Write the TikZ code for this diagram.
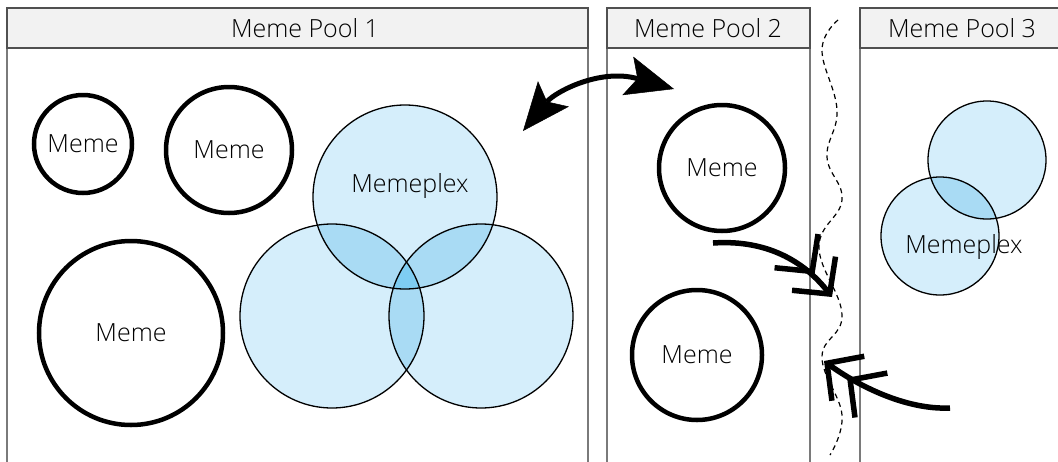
\documentclass[tikz,border=0pt]{standalone}
\usepackage{fontspec}
\IfFontExistsTF{Open Sans Light}{\setmainfont{Open Sans Light}}{\setmainfont{Open Sans}}
\usetikzlibrary{arrows.meta}
\definecolor{vbase}{HTML}{D5EEFB}
\definecolor{vpair}{HTML}{A9DBF4}
\definecolor{vtri}{HTML}{7ECDF2}
\definecolor{hdr}{HTML}{F2F2F2}
\definecolor{pline}{HTML}{7A7A7A}
\definecolor{hline}{HTML}{505050}
\begin{document}
\begin{tikzpicture}[x=1pt,y=-1pt,
  every node/.style={font=\fontsize{25}{30}\selectfont, inner sep=0pt},
  meme/.style={circle, draw=black, line width=4.5pt, minimum size=#1},
  venn/.style={circle, draw=black, line width=1.3pt, minimum size=#1},
  header/.style={draw=hline, fill=hdr, line width=1.5pt},
  side/.style={draw=pline, line width=1.5pt},
  bigarrow/.style={line width=5pt,
    {Stealth[length=48pt,width=40pt,inset=10pt,line width=0.5pt]}-{Stealth[length=48pt,width=40pt,inset=10pt,line width=0.5pt]}},
  chevarrow/.style={line width=5.5pt,
    -{Straight Barb[length=26pt,width=55pt,sharp,sep=-4pt]Straight Barb[length=26pt,width=55pt,sharp]}},
  wave/.style={line width=1.2pt, dash pattern=on 5pt off 4pt}
]
\useasboundingbox (0,0) rectangle (1058,461);

% panels
\draw[side] (7,470) -- (7,48) (588,48) -- (588,470);
\draw[header] (7,8) rectangle (588,48);
\node (t1) at (305,28.5) {Meme Pool 1};

\draw[side] (607,470) -- (607,48) (810,48) -- (810,470);
\draw[header] (607,8) rectangle (810,48);
\node (t2) at (708,28.5) {Meme Pool 2};

\draw[side] (860,470) -- (860,48) (1065,48) -- (1065,470);
\draw[header] (860,8) rectangle (1065,48);
\node (t3) at (962,28.5) {Meme Pool 3};

% memes
\node[meme=98pt]  (m1) at (83,144) {Meme};
\node[meme=126pt] (m2) at (229,150) {Meme};
\node[meme=184pt] (m3) at (131,333) {Meme};
\node[meme=126pt] (m4) at (722,168) {Meme};
\node[meme=130pt] (m5) at (697,355) {Meme};

% Venn memeplex (pool 1)
\coordinate (ca) at (405,197);
\coordinate (cb) at (332,316);
\coordinate (cc) at (481,316);
\foreach \c in {ca,cb,cc} \fill[vbase] (\c) circle[radius=92pt];
\begin{scope}
  \clip (ca) circle[radius=92pt];
  \fill[vpair] (cb) circle[radius=92pt];
  \fill[vpair] (cc) circle[radius=92pt];
\end{scope}
\begin{scope}
  \clip (cb) circle[radius=92pt];
  \fill[vpair] (cc) circle[radius=92pt];
\end{scope}
\begin{scope}
  \clip (ca) circle[radius=92pt];
  \clip (cb) circle[radius=92pt];
  \fill[vtri] (cc) circle[radius=92pt];
\end{scope}
\node[venn=184pt] (va) at (ca) {};
\node[venn=184pt] (vb) at (cb) {};
\node[venn=184pt] (vc) at (cc) {};
\node (mp1) at (410,186) {Memeplex};

% memeplex (pool 3)
\coordinate (cd) at (987,160);
\coordinate (ce) at (940,236);
\fill[vbase] (cd) circle[radius=59pt];
\fill[vbase] (ce) circle[radius=59pt];
\begin{scope}
  \clip (cd) circle[radius=59pt];
  \fill[vpair] (ce) circle[radius=59pt];
\end{scope}
\node[venn=118pt] (vd) at (cd) {};
\node[venn=118pt] (ve) at (ce) {};
\node (mp3) at (964,247) {Memeplex};

% wavy boundary
\draw[wave] plot[smooth, tension=0.7] coordinates {(838,20) (822,50) (837,110) (827,157) (842,200) (819,247) (842,315) (822,357) (842,415) (830,455)};

% arrows
\coordinate (d1) at (523,131);
\coordinate (d2) at (674,89);
\draw[bigarrow] (d1) .. controls (555,92) and (600,68) .. (d2);

\coordinate (a2s) at (713,243);
\coordinate (a2e) at (832,297);
\draw[chevarrow] (a2s) .. controls (772,239) and (808,266) .. (a2e);

\coordinate (a3s) at (950,408);
\coordinate (a3e) at (824,361);
\draw[chevarrow] (a3s) .. controls (905,410) and (857,385) .. (a3e);
\end{tikzpicture}
\end{document}
